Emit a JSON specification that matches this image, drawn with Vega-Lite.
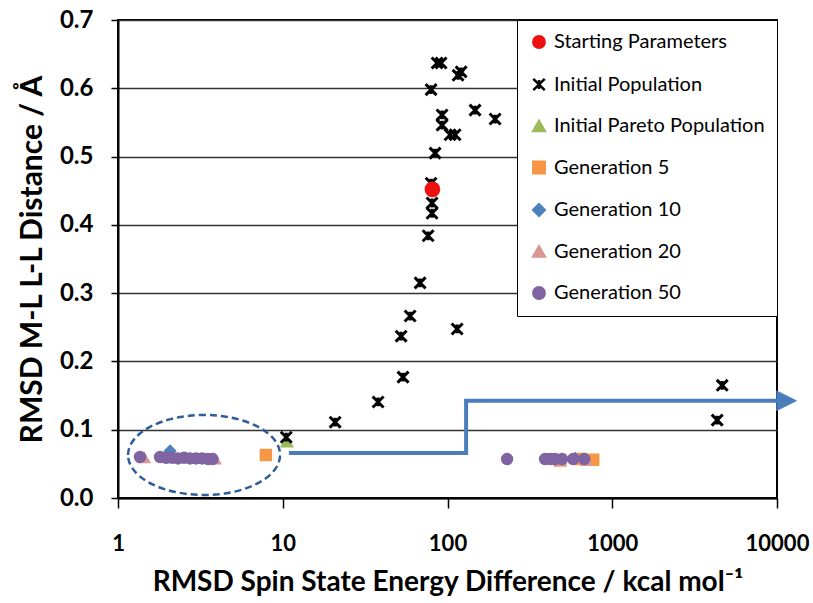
{
  "$schema": "https://vega.github.io/schema/vega-lite/v6.json",
  "autosize": {"type": "none"},
  "width": 659,
  "height": 478,
  "padding": {"left": 118, "top": 20, "right": 36, "bottom": 105},
  "background": "white",
  "config": {
    "view": {"stroke": "black", "strokeWidth": 2},
    "font": "Lato",
    "axis": {
      "domainColor": "black",
      "domainWidth": 2,
      "tickColor": "black",
      "tickWidth": 1.5,
      "labelFont": "Lato",
      "labelFontWeight": "bold",
      "labelColor": "black",
      "titleFont": "Lato",
      "titleFontWeight": "bold",
      "titleColor": "black"
    },
    "legend": {
      "orient": "top-right",
      "offset": 0,
      "fillColor": "white",
      "strokeColor": "black",
      "padding": 12,
      "rowPadding": 20.5,
      "labelFont": "Lato",
      "labelFontSize": 20,
      "labelLimit": 400,
      "labelColor": "black",
      "symbolSize": 130,
      "symbolStrokeWidth": 2.5,
      "labelOffset": 5
    }
  },
  "datasets": {
    "start": [
      {"series": "Starting Parameters", "energy": 81, "dist": 0.452}
    ],
    "stars": [
      {"series": "Initial Population", "energy": 86.5, "dist": 0.637},
      {"series": "Initial Population", "energy": 91.4, "dist": 0.637},
      {"series": "Initial Population", "energy": 115.9, "dist": 0.619},
      {"series": "Initial Population", "energy": 121, "dist": 0.624},
      {"series": "Initial Population", "energy": 79.5, "dist": 0.598},
      {"series": "Initial Population", "energy": 92.7, "dist": 0.561},
      {"series": "Initial Population", "energy": 92.7, "dist": 0.546},
      {"series": "Initial Population", "energy": 103.7, "dist": 0.532},
      {"series": "Initial Population", "energy": 111.3, "dist": 0.532},
      {"series": "Initial Population", "energy": 147, "dist": 0.568},
      {"series": "Initial Population", "energy": 194.5, "dist": 0.555},
      {"series": "Initial Population", "energy": 84.1, "dist": 0.505},
      {"series": "Initial Population", "energy": 79.5, "dist": 0.461},
      {"series": "Initial Population", "energy": 80.6, "dist": 0.432},
      {"series": "Initial Population", "energy": 80.6, "dist": 0.417},
      {"series": "Initial Population", "energy": 76.3, "dist": 0.384},
      {"series": "Initial Population", "energy": 68.2, "dist": 0.315},
      {"series": "Initial Population", "energy": 59.3, "dist": 0.2665},
      {"series": "Initial Population", "energy": 52.3, "dist": 0.237},
      {"series": "Initial Population", "energy": 114.4, "dist": 0.2475},
      {"series": "Initial Population", "energy": 53.7, "dist": 0.177},
      {"series": "Initial Population", "energy": 37.9, "dist": 0.1406},
      {"series": "Initial Population", "energy": 20.8, "dist": 0.111},
      {"series": "Initial Population", "energy": 10.5, "dist": 0.089},
      {"series": "Initial Population", "energy": 4335, "dist": 0.114},
      {"series": "Initial Population", "energy": 4650, "dist": 0.165}
    ],
    "pts": [
      {"series": "Initial Pareto Population", "energy": 10.6, "dist": 0.082},
      {"series": "Generation 5", "energy": 7.9, "dist": 0.063},
      {"series": "Generation 5", "energy": 483, "dist": 0.055},
      {"series": "Generation 5", "energy": 638, "dist": 0.057},
      {"series": "Generation 5", "energy": 766, "dist": 0.056},
      {"series": "Generation 10", "energy": 2.07, "dist": 0.069},
      {"series": "Generation 10", "energy": 596, "dist": 0.058},
      {"series": "Generation 20", "energy": 1.44, "dist": 0.059},
      {"series": "Generation 20", "energy": 3.88, "dist": 0.057},
      {"series": "Generation 20", "energy": 483, "dist": 0.055},
      {"series": "Generation 20", "energy": 700, "dist": 0.055},
      {"series": "Generation 50", "energy": 1.36, "dist": 0.06},
      {"series": "Generation 50", "energy": 1.8, "dist": 0.06},
      {"series": "Generation 50", "energy": 1.96, "dist": 0.059},
      {"series": "Generation 50", "energy": 2.13, "dist": 0.059},
      {"series": "Generation 50", "energy": 2.31, "dist": 0.058},
      {"series": "Generation 50", "energy": 2.52, "dist": 0.059},
      {"series": "Generation 50", "energy": 2.74, "dist": 0.058},
      {"series": "Generation 50", "energy": 2.98, "dist": 0.058},
      {"series": "Generation 50", "energy": 3.24, "dist": 0.058},
      {"series": "Generation 50", "energy": 3.52, "dist": 0.057},
      {"series": "Generation 50", "energy": 3.75, "dist": 0.057},
      {"series": "Generation 50", "energy": 230, "dist": 0.057},
      {"series": "Generation 50", "energy": 391, "dist": 0.057},
      {"series": "Generation 50", "energy": 420, "dist": 0.057},
      {"series": "Generation 50", "energy": 450, "dist": 0.057},
      {"series": "Generation 50", "energy": 496, "dist": 0.057},
      {"series": "Generation 50", "energy": 579, "dist": 0.057},
      {"series": "Generation 50", "energy": 676, "dist": 0.057}
    ],
    "ellipse": [{"energy": 3.33, "dist": 0.063}],
    "arrow": [
      {"i": 1, "energy": 10.9, "dist": 0.0659},
      {"i": 2, "energy": 129.7, "dist": 0.0659},
      {"i": 3, "energy": 129.7, "dist": 0.1425},
      {"i": 4, "energy": 10000, "dist": 0.1425}
    ],
    "arrowhead": [{"energy": 11456, "dist": 0.1425}]
  },
  "encoding": {
    "x": {
      "field": "energy",
      "type": "quantitative",
      "scale": {"type": "log", "domain": [1, 10000], "nice": false},
      "axis": {
        "values": [1, 10, 100, 1000, 10000],
        "format": "d",
        "grid": false,
        "tickSize": 10,
        "labelFontSize": 22,
        "labelPadding": 25,
        "labelFlush": false,
        "title": "RMSD Spin State Energy Difference / kcal mol⁻¹",
        "titleFontSize": 28,
        "titlePadding": 14
      }
    },
    "y": {
      "field": "dist",
      "type": "quantitative",
      "scale": {"domain": [0, 0.7], "nice": false},
      "axis": {
        "values": [0, 0.1, 0.2, 0.3, 0.4, 0.5, 0.6, 0.7],
        "format": ".1f",
        "grid": true,
        "gridColor": "#333333",
        "gridWidth": 1.5,
        "tickSize": 7,
        "labelFontSize": 24,
        "labelFlush": false,
        "labelPadding": 18,
        "title": "RMSD M-L L-L Distance / Å",
        "titleFontSize": 30,
        "titlePadding": 12
      }
    }
  },
  "layer": [
    {
      "data": {"name": "ellipse"},
      "mark": {
        "type": "point",
        "shape": "M-1.9,0A1.9,1 0 1,1 1.9,0A1.9,1 0 1,1 -1.9,0Z",
        "size": 6400,
        "filled": false,
        "stroke": "#2E5D99",
        "strokeWidth": 2.5,
        "strokeDash": [7, 4],
        "opacity": 1
      }
    },
    {
      "data": {"name": "arrow"},
      "mark": {"type": "line", "color": "#4A7EBB", "strokeWidth": 4, "strokeJoin": "miter", "interpolate": "linear"},
      "encoding": {"order": {"field": "i", "type": "quantitative"}}
    },
    {
      "data": {"name": "arrowhead"},
      "mark": {
        "type": "point",
        "shape": "M-1,-1L1,0L-1,1Z",
        "size": 441,
        "filled": true,
        "fill": "#4A7EBB",
        "strokeWidth": 0,
        "opacity": 1
      }
    },
    {
      "data": {"name": "pts"},
      "mark": {"type": "point", "filled": true, "size": 110, "opacity": 1},
      "encoding": {
        "shape": {
          "field": "series",
          "type": "nominal",
          "scale": {
            "domain": ["Starting Parameters", "Initial Population", "Initial Pareto Population", "Generation 5", "Generation 10", "Generation 20", "Generation 50"],
            "range": ["circle", "M-1,-1L1,1M-1,1L1,-1M0,-0.8L0,0.8", "triangle-up", "square", "diamond", "triangle-up", "circle"]
          },
          "title": null
        },
        "fill": {
          "field": "series",
          "type": "nominal",
          "scale": {
            "domain": ["Starting Parameters", "Initial Population", "Initial Pareto Population", "Generation 5", "Generation 10", "Generation 20", "Generation 50"],
            "range": ["#EE1111", "transparent", "#9BBB59", "#F79646", "#4F81BD", "#D99694", "#8064A2"]
          },
          "title": null
        },
        "stroke": {
          "field": "series",
          "type": "nominal",
          "scale": {
            "domain": ["Starting Parameters", "Initial Population", "Initial Pareto Population", "Generation 5", "Generation 10", "Generation 20", "Generation 50"],
            "range": ["#EE1111", "#000000", "#9BBB59", "#F79646", "#4F81BD", "#D99694", "#8064A2"]
          },
          "title": null
        }
      }
    },
    {
      "data": {"name": "stars"},
      "mark": {"type": "point", "filled": false, "size": 120, "strokeWidth": 3, "opacity": 1},
      "encoding": {
        "shape": {"field": "series", "type": "nominal", "title": null},
        "fill": {"field": "series", "type": "nominal", "title": null},
        "stroke": {"field": "series", "type": "nominal", "title": null}
      }
    },
    {
      "data": {"name": "start"},
      "mark": {"type": "point", "filled": true, "size": 190, "opacity": 1},
      "encoding": {
        "shape": {"field": "series", "type": "nominal", "title": null},
        "fill": {"field": "series", "type": "nominal", "title": null},
        "stroke": {"field": "series", "type": "nominal", "title": null}
      }
    }
  ]
}
